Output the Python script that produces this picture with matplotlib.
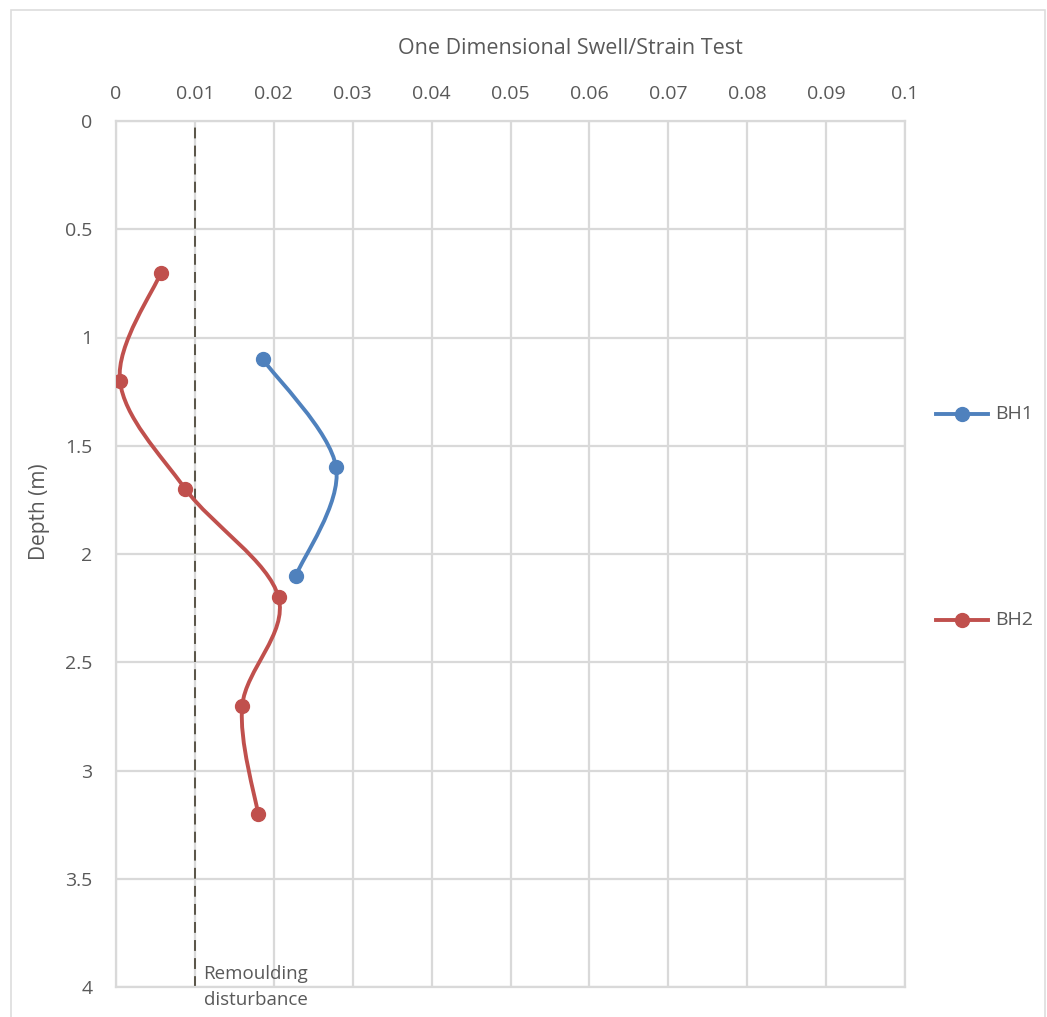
import numpy as np
import matplotlib.pyplot as plt
from matplotlib.path import Path
from matplotlib.patches import PathPatch, Rectangle
from matplotlib.lines import Line2D

# data
bh1_strain = [0.0186, 0.0279, 0.0228]
bh1_depth = [1.1, 1.6, 2.1]
bh2_strain = [0.0057, 0.0005, 0.0088, 0.0206, 0.0160, 0.0180]
bh2_depth = [0.7, 1.2, 1.7, 2.2, 2.7, 3.2]
remould_x = 0.01
x_ticks = [0, 0.01, 0.02, 0.03, 0.04, 0.05, 0.06, 0.07, 0.08, 0.09, 0.1]
y_ticks = [0, 0.5, 1, 1.5, 2, 2.5, 3, 3.5, 4]

BLUE = '#4F81BD'
RED = '#C0504D'
TXT = '#595959'
GRID = '#D9D9D9'

plt.rcParams['font.family'] = ['Open Sans', 'DejaVu Sans']


def smooth_path(xs, ys):
    """Excel-like smoothed line as cubic bezier segments"""
    pts = np.column_stack([xs, ys])
    n = len(pts)
    verts = [pts[0]]
    codes = [Path.MOVETO]
    for i in range(n - 1):
        p0 = pts[max(i - 1, 0)]
        p1 = pts[i]
        p2 = pts[i + 1]
        p3 = pts[min(i + 2, n - 1)]
        c1 = p1 + (p2 - p0) / 6.0
        c2 = p2 - (p3 - p1) / 6.0
        verts += [c1, c2, p2]
        codes += [Path.CURVE4] * 3
    return Path(verts, codes)


fig = plt.figure(figsize=(10.47, 10.17), dpi=100)
ax = fig.add_axes([116 / 1047, 1 - 987 / 1017, 789 / 1047, 866 / 1017])

for xs, ys, col, name in [(bh1_strain, bh1_depth, BLUE, 'BH1'),
                          (bh2_strain, bh2_depth, RED, 'BH2')]:
    ax.add_patch(PathPatch(smooth_path(xs, ys), facecolor='none',
                           edgecolor=col, lw=2.8, zorder=3))
    ax.plot(xs, ys, 'o', color=col, ms=10, zorder=4, label=name)

ax.axvline(remould_x, color='#4f4a3c', lw=1.3, dashes=(6, 4), zorder=2)
ax.text(remould_x + 0.0011, 4.0, 'Remoulding\ndisturbance', color=TXT,
        fontsize=13.5, va='center', ha='left', linespacing=1.6, clip_on=False)

ax.set_xlim(0, 0.1)
ax.set_ylim(4, 0)
ax.set_xticks(x_ticks)
ax.set_xticklabels(['0' if v == 0 else ('0.1' if v == 0.1 else f'{v:.2f}') for v in x_ticks])
ax.set_yticks(y_ticks)
ax.set_yticklabels([f'{v:g}' for v in y_ticks])
ax.xaxis.tick_top()
ax.tick_params(length=0, labelsize=14, colors=TXT)
ax.tick_params(axis='x', pad=13)
ax.tick_params(axis='y', pad=17)
ax.grid(True, color=GRID, lw=1.6, zorder=0)
ax.set_axisbelow(True)
for s in ax.spines.values():
    s.set_color(GRID)
    s.set_linewidth(1.6)

fig.text(570 / 1047, 1 - 48 / 1017, 'One Dimensional Swell/Strain Test',
         ha='center', va='center', fontsize=15.5, color=TXT)
fig.text(40 / 1047, 1 - 512 / 1017, 'Depth (m)', rotation=90,
         ha='center', va='center', fontsize=15, color=TXT)

# legend drawn by hand at the right side
for col, name, ypix in [(BLUE, 'BH1', 414), (RED, 'BH2', 620)]:
    yf = 1 - ypix / 1017
    fig.add_artist(Line2D([936 / 1047, 988 / 1047], [yf, yf], color=col, lw=2.8))
    fig.add_artist(Line2D([962 / 1047], [yf], marker='o', color=col, ms=10))
    fig.text(995 / 1047, yf, name, ha='left', va='center', fontsize=14, color=TXT)

# outer chart frame
fig.add_artist(Rectangle((11 / 1047, -0.01), 1034 / 1047, 1 - 10 / 1017 + 0.01,
                         transform=fig.transFigure, fill=False,
                         edgecolor='#DDDDDD', lw=1.2))

fig.savefig('out.png', dpi=100)
